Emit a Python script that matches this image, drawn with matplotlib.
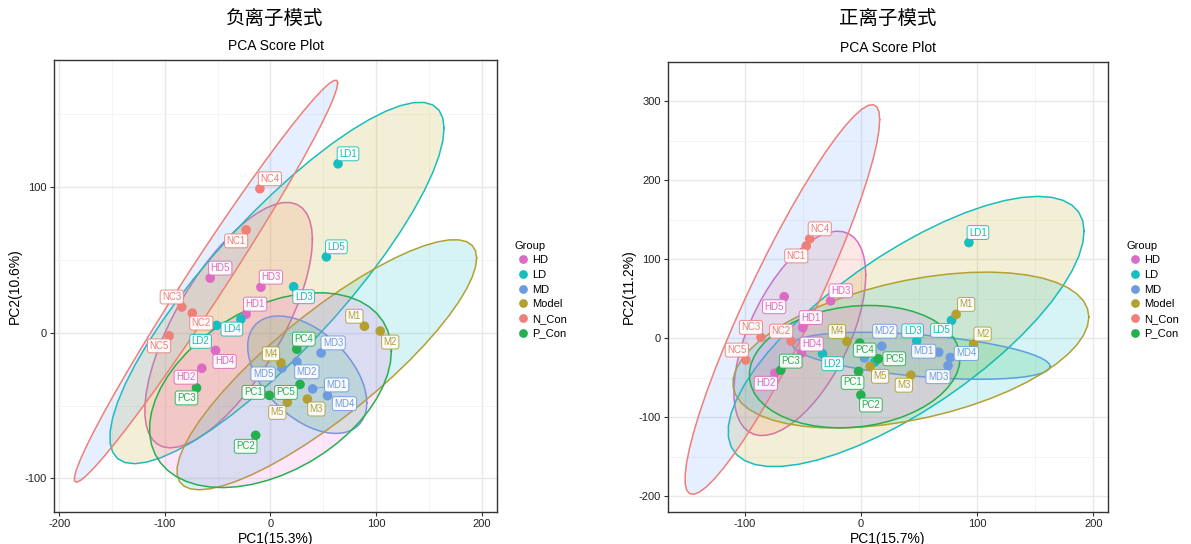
import numpy as np
import matplotlib
matplotlib.use("Agg")
import matplotlib.pyplot as plt
from matplotlib.lines import Line2D

plt.rcParams['font.family'] = ['Liberation Sans', 'Noto Sans CJK SC', 'DejaVu Sans']
plt.rcParams['axes.unicode_minus'] = False

groups = ["HD", "LD", "MD", "Model", "N_Con", "P_Con"]
line_cols = ["#DC6BC3", "#17BEBF", "#6C9BE0", "#B3A030", "#EF7F77", "#25B04F"]
# fill scale left at ggplot's default hue palette
fill_cols = ["#F8766D", "#B79F00", "#00BA38", "#00BFC4", "#619CFF", "#F564E3"]

names = {
    "HD": ["HD1", "HD2", "HD3", "HD4", "HD5"],
    "LD": ["LD1", "LD2", "LD3", "LD4", "LD5"],
    "MD": ["MD1", "MD2", "MD3", "MD4", "MD5"],
    "Model": ["M1", "M2", "M3", "M4", "M5"],
    "N_Con": ["NC1", "NC2", "NC3", "NC4", "NC5"],
    "P_Con": ["PC1", "PC2", "PC3", "PC4", "PC5"],
}

# negative ion mode scores (PC1, PC2)
neg_pc1 = {
    "HD": [-23, -65, -9, -52, -57],
    "LD": [64, -51, 22, -28, 53],
    "MD": [40, 25, 48, 54, 11],
    "Model": [89, 104, 35, 10, 16],
    "N_Con": [-23, -74, -84, -10, -96],
    "P_Con": [-1, -14, -70, 25, 28],
}
neg_pc2 = {
    "HD": [12.7, -24.4, 31.2, -12.2, 37.4],
    "LD": [115.8, 5.0, 31.5, 9.3, 52.0],
    "MD": [-38.6, -20.0, -13.9, -43.2, -24.2],
    "Model": [4.4, 1.1, -45.5, -20.7, -47.8],
    "N_Con": [70.5, 13.4, 17.6, 98.7, -2.2],
    "P_Con": [-43.0, -70.4, -37.9, -11.3, -35.5],
}

# positive ion mode scores (PC1, PC2)
pos_pc1 = {
    "HD": [-50, -74, -26, -51, -66],
    "LD": [93, -33, 48, 12, 78],
    "MD": [67, 18, 75, 77, 3],
    "Model": [82, 97, 43, -12, 8],
    "N_Con": [-47, -60, -86, -44, -99],
    "P_Con": [-2, 0, -69, -1, 15],
}
pos_pc2 = {
    "HD": [13.6, -44.3, 47.5, -18.7, 52.7],
    "LD": [121.3, -19.5, -3.2, -30.0, 22.7],
    "MD": [-17.6, -10.0, -34.7, -24.3, -24.8],
    "Model": [30.3, -7.2, -46.7, -4.0, -35.5],
    "N_Con": [117.0, -3.6, 1.2, 126.0, -27.5],
    "P_Con": [-41.9, -71.8, -40.3, -6.0, -25.9],
}

# label offsets from their point, in pixels (right, down)
neg_offsets = {
    "LD1": (10, -10), "NC4": (10, -10), "NC1": (-10, 11), "LD5": (10, -10),
    "HD5": (10, -10), "HD3": (10, -10), "LD3": (10, 10), "NC3": (-10, -10),
    "NC2": (9, 10), "HD1": (9, -10), "LD4": (-9, 10), "LD2": (-16, 16),
    "NC5": (-10, 10), "M1": (-10, -10), "M2": (10, 11), "PC4": (7, -10),
    "MD3": (12, -10), "HD4": (9, 11), "M4": (-10, -9), "MD2": (10, 10),
    "MD5": (-19, 6), "PC5": (-14, 8), "MD1": (24, -4), "MD4": (17, 8),
    "M3": (9, 10), "M5": (-10, 10), "PC1": (-16, -3), "PC3": (-10, 10),
    "HD2": (-16, 9), "PC2": (-10, 11),
}
pos_offsets = {
    "LD1": (9, -10), "NC4": (10, -10), "NC1": (-10, 10), "HD5": (-10, 10),
    "HD3": (10, -10), "M1": (10, -10), "LD5": (-10, 10), "HD1": (8, -10),
    "NC3": (-10, -10), "NC2": (-10, -10), "M4": (-10, -10), "PC4": (5, 7),
    "MD2": (3, -15), "LD3": (-4, -10), "M2": (9, -10), "MD1": (-15, -1),
    "MD4": (16, -4), "MD3": (-10, 11), "HD4": (10, -9), "LD2": (10, 10),
    "PC5": (16, 0), "M5": (10, 10), "PC1": (-6, 11), "M3": (-7, 10),
    "PC3": (10, -9), "HD2": (-9, 10), "PC2": (10, 10), "NC5": (-9, -10),
}


def cov_trob(x, nu=5, maxit=25, tol=0.01):
    # multivariate t location/scatter, same scheme as MASS::cov.trob
    n, p = x.shape
    loc = x.mean(axis=0)
    w = np.ones(n)
    X = x - loc
    for _ in range(maxit):
        w0 = w
        X = x - loc
        c = (w[:, None] * X).T @ X / w.sum()
        q = np.einsum('ij,jk,ik->i', X, np.linalg.inv(c), X)
        w = (nu + p) / (nu + q)
        loc = (w[:, None] * x).sum(axis=0) / w.sum()
        if np.all(np.abs(w - w0) < tol):
            break
    cov = (w[:, None] * X).T @ X / n
    return loc, cov


def ellipse(xs, ys, level=0.95, segments=51):
    pts = np.column_stack([xs, ys]).astype(float)
    center, cov = cov_trob(pts)
    dfd = len(pts) - 1
    qf = dfd / 2 * ((1 - level) ** (-2 / dfd) - 1)
    radius = np.sqrt(2 * qf)
    t = np.linspace(0, 2 * np.pi, segments + 1)
    unit = np.column_stack([np.cos(t), np.sin(t)])
    chol = np.linalg.cholesky(cov).T
    return center + radius * unit @ chol


def score_plot(ax, pc1, pc2, offsets, xlim, ylim, xticks, yticks, xlab, ylab):
    for g, lc, fc in zip(groups, line_cols, fill_cols):
        e = ellipse(pc1[g], pc2[g])
        ax.fill(e[:, 0], e[:, 1], facecolor=fc, alpha=0.16, edgecolor='none', zorder=2)
        ax.plot(e[:, 0], e[:, 1], color=lc, lw=1.1, zorder=2)
    for g, lc in zip(groups, line_cols):
        ax.scatter(pc1[g], pc2[g], s=48, color=lc, edgecolors='none', zorder=3)
    for g, lc in zip(groups, line_cols):
        for name, x, y in zip(names[g], pc1[g], pc2[g]):
            if name not in offsets:
                continue
            dx, dy = offsets[name]
            far = np.hypot(dx, dy) > 16
            ax.annotate(name, (x, y), xytext=(dx * 0.72, -dy * 0.72),
                        textcoords='offset points', ha='center', va='center',
                        fontsize=7, color=lc, zorder=4,
                        bbox=dict(boxstyle='round,pad=0.2,rounding_size=0.25',
                                  fc='white', ec=lc, lw=0.7, alpha=0.9),
                        arrowprops=dict(arrowstyle='-', color=lc, lw=0.6,
                                        shrinkA=0, shrinkB=3) if far else None)
    ax.set_xlim(*xlim)
    ax.set_ylim(*ylim)
    ax.set_xticks(xticks)
    ax.set_yticks(yticks)
    ax.set_xticks([(a + b) / 2 for a, b in zip(xticks[:-1], xticks[1:])], minor=True)
    ax.set_yticks([(a + b) / 2 for a, b in zip(yticks[:-1], yticks[1:])] +
                  [yticks[-1] + (yticks[1] - yticks[0]) / 2], minor=True)
    ax.grid(which='major', color='#E8E8E8', lw=1.0, zorder=0)
    ax.grid(which='minor', color='#F3F3F3', lw=0.6, zorder=0)
    ax.set_axisbelow(True)
    ax.tick_params(which='major', length=3, width=0.8, color='#333333',
                   labelsize=8, labelcolor='#222222', pad=2)
    ax.tick_params(which='minor', length=0)
    for s in ax.spines.values():
        s.set_color('#333333')
        s.set_linewidth(1.0)
    ax.set_xlabel(xlab, fontsize=10, labelpad=2)
    ax.set_ylabel(ylab, fontsize=10, labelpad=2)
    ax.set_title("PCA Score Plot", fontsize=10, pad=7)


W, H = 1191, 544
fig = plt.figure(figsize=(W / 100, H / 100), dpi=100)

ax1 = fig.add_axes([54 / W, 1 - 512 / H, 443 / W, 452 / H])
score_plot(ax1, neg_pc1, neg_pc2, neg_offsets, (-205, 214.6), (-123, 187),
           [-200, -100, 0, 100, 200], [-100, 0, 100], "PC1(15.3%)", "PC2(10.6%)")

ax2 = fig.add_axes([668 / W, 1 - 512 / H, 440 / W, 450 / H])
score_plot(ax2, pos_pc1, pos_pc2, pos_offsets, (-166, 212.7), (-220, 317.5),
           [-100, 0, 100, 200], [-200, -100, 0, 100, 200, 300],
           "PC1(15.7%)", "PC2(11.2%)")

fig.text(275 / W, 1 - 18 / H, "负离子模式", ha='center', va='center',
         fontsize=14, family=['Noto Sans CJK SC'])
fig.text(888 / W, 1 - 18 / H, "正离子模式", ha='center', va='center',
         fontsize=14, family=['Noto Sans CJK SC'])

handles = [Line2D([], [], ls='none', marker='o', ms=6.3, color=c, mec='none')
           for c in line_cols]
for x0, y0 in [(509, 235), (1121, 235)]:
    fig.legend(handles, groups, loc='upper left',
               bbox_to_anchor=(x0 / W, 1 - y0 / H), frameon=False,
               title="Group", title_fontsize=8, fontsize=8,
               handletextpad=0.1, handlelength=1.5, labelspacing=0.42,
               borderpad=0, alignment='left')

fig.savefig("out.png", dpi=100, facecolor='white')
